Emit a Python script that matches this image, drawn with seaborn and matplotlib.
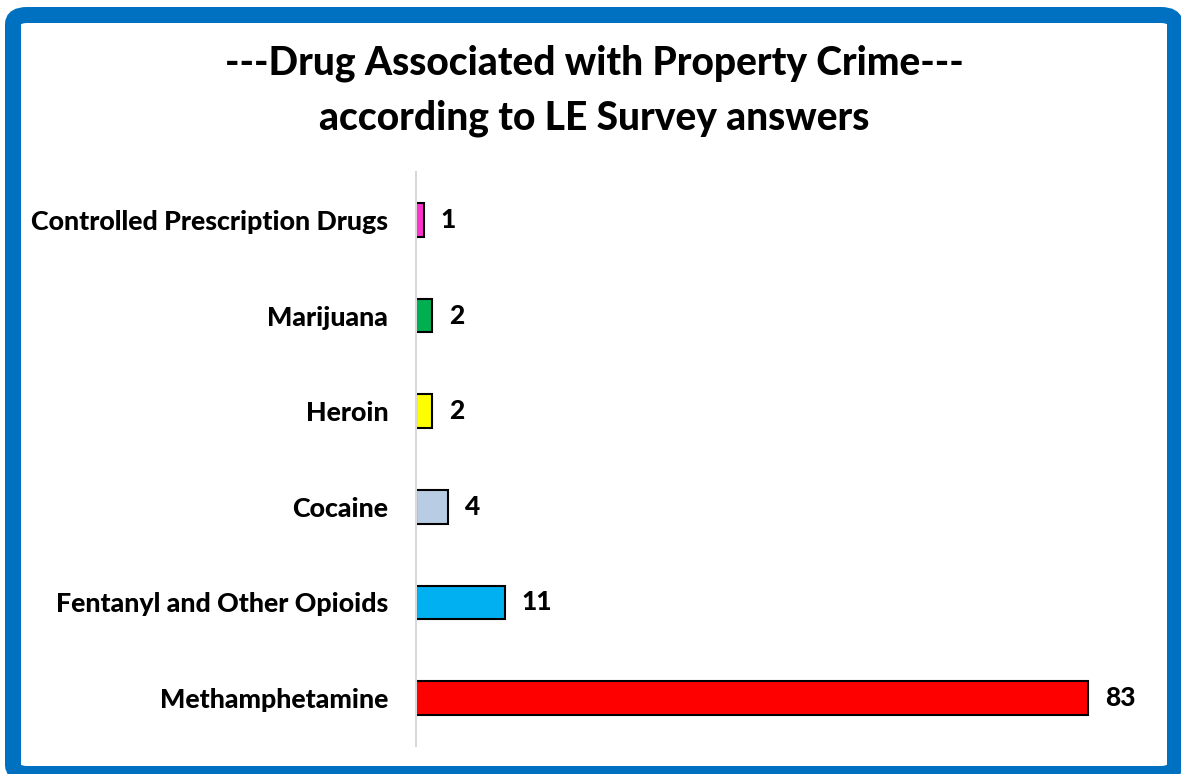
import matplotlib
matplotlib.use("Agg")
import matplotlib.pyplot as plt
from matplotlib.patches import FancyBboxPatch
import seaborn as sns
import pandas as pd

# Survey results, listed top to bottom as drawn
drugs = [
    "Controlled Prescription Drugs",
    "Marijuana",
    "Heroin",
    "Cocaine",
    "Fentanyl and Other Opioids",
    "Methamphetamine",
]
counts = [1, 2, 2, 4, 11, 83]
bar_colors = ["#FF33CC", "#00B050", "#FFFF00", "#B8CCE4", "#00B0F0", "#FF0000"]

title_text = "---Drug Associated with Property Crime---\naccording to LE Survey answers"

sns.set_theme(style="white")
plt.rcParams["font.family"] = ["Lato", "DejaVu Sans"]
plt.rcParams["text.color"] = "black"
plt.rcParams["ytick.color"] = "black"

W, H, DPI = 1181, 774, 100
fig = plt.figure(figsize=(W / DPI, H / DPI), dpi=DPI)
fig.patch.set_facecolor("white")

# Rounded blue frame around the whole figure
frame = FancyBboxPatch(
    (13 / W, 0.0), (1175 - 13) / W, (1 - 15 / H),
    boxstyle="round,pad=0,rounding_size=0.012",
    transform=fig.transFigure, facecolor="none",
    edgecolor="#0070C0", linewidth=16 * 72 / DPI, zorder=10,
)
fig.patches.append(frame)

fig.text(594 / W, 1 - 91 / H, title_text, ha="center", va="center",
         fontsize=28, fontweight="black", linespacing=1.58, color="black")

left_px, right_px, top_px, bottom_px = 416, 1145, 172, 746
ax = fig.add_axes([left_px / W, 1 - bottom_px / H,
                   (right_px - left_px) / W, (bottom_px - top_px) / H])

df = pd.DataFrame({"drug": drugs, "count": counts})
sns.barplot(data=df, x="count", y="drug", hue="drug", order=drugs,
            hue_order=drugs, palette=bar_colors, orient="h", width=0.35,
            saturation=1, edgecolor="black", linewidth=1.5, legend=False, ax=ax)

for cont in ax.containers:
    ax.bar_label(cont, fmt="%d", padding=12, fontsize=19, fontweight="black",
                 color="black")

ax.set_xlim(0, 90)
ax.set_xlabel("")
ax.set_ylabel("")
ax.set_xticks([])
ax.tick_params(axis="y", length=0, pad=20, labelsize=19.3, labelcolor="black")
for lbl in ax.get_yticklabels():
    lbl.set_fontweight("black")
for side in ["top", "right", "bottom"]:
    ax.spines[side].set_visible(False)
ax.spines["left"].set_color("#D9D9D9")
ax.spines["left"].set_linewidth(1.5)

fig.savefig("out.png", dpi=DPI, facecolor="white")
